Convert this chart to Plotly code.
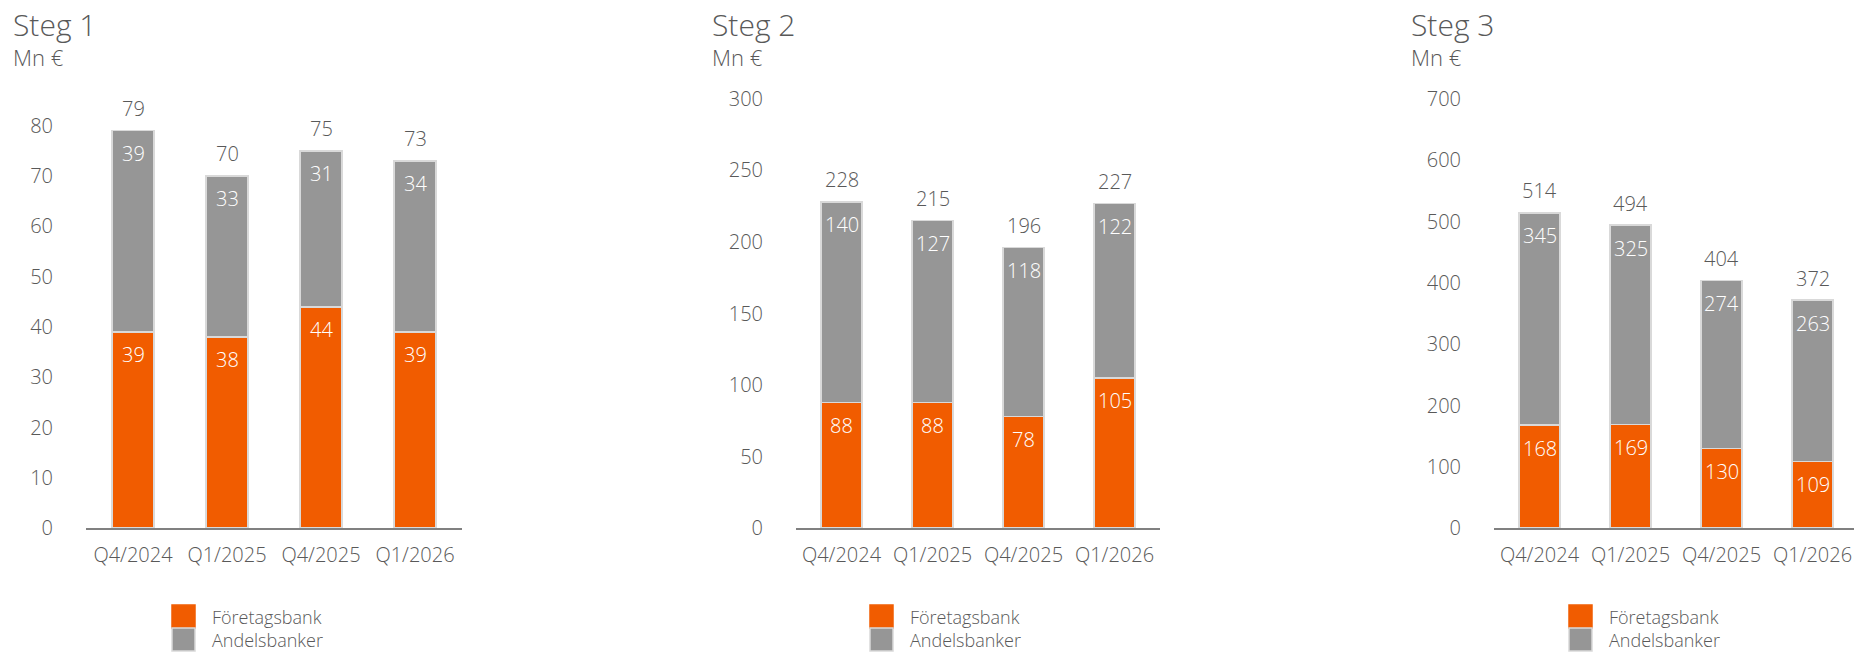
import plotly.graph_objects as go

categories = ["Q4/2024", "Q1/2025", "Q4/2025", "Q1/2026"]

steg1_foretag = [39, 38, 44, 39]
steg1_andels = [39, 33, 31, 34]
steg1_total = [79, 70, 75, 73]

steg2_foretag = [88, 88, 78, 105]
steg2_andels = [140, 127, 118, 122]
steg2_total = [228, 215, 196, 227]

steg3_foretag = [168, 169, 130, 109]
steg3_andels = [345, 325, 274, 263]
steg3_total = [514, 494, 404, 372]

titles = ["Steg 1", "Steg 2", "Steg 3"]
unit = "Mn €"
series_names = ["Företagsbank", "Andelsbanker"]

y_ticks = [
    [0, 10, 20, 30, 40, 50, 60, 70, 80],
    [0, 50, 100, 150, 200, 250, 300],
    [0, 100, 200, 300, 400, 500, 600, 700],
]
y_ranges = [[0, 89.1], [0, 313.3], [0, 731]]

W, H = 1854, 652
H_PAGE = H + 12  # renderer lays the paper out 12 px shorter than the div
ORANGE = "#F15C00"
GREY = "#969696"
EDGE = "#D9D9D9"
TXT = "#595959"
FONT = "Open Sans, Lato, sans-serif"
WT = 300

panels = [
    (steg1_foretag, steg1_andels, steg1_total),
    (steg2_foretag, steg2_andels, steg2_total),
    (steg3_foretag, steg3_andels, steg3_total),
]

x_px = [(86, 462), (796, 1160), (1494, 1858)]
title_x = [11, 710, 1409]
legend_x = [172, 870, 1569]
base_px = 529
top_px = 80


def fnt(size, color=TXT):
    return dict(size=size, color=color, family=FONT, weight=WT)


fig = go.Figure()
annotations = []
shapes = []

for i, (fore, andl, tot) in enumerate(panels):
    sfx = "" if i == 0 else str(i + 1)
    xa = "x" + sfx
    ya = "y" + sfx
    # grey segment drawn from the orange top up to the stacked total shown above the bar
    grey_h = [t - f for f, t in zip(fore, tot)]
    fig.add_trace(go.Bar(
        x=categories, y=fore, name=series_names[0], xaxis=xa, yaxis=ya,
        marker=dict(color=ORANGE, line=dict(color=EDGE, width=1.5)),
        showlegend=False, hovertext=[str(v) for v in fore], hoverinfo="text",
    ))
    fig.add_trace(go.Bar(
        x=categories, y=grey_h, name=series_names[1], xaxis=xa, yaxis=ya,
        marker=dict(color=GREY, line=dict(color=EDGE, width=1.5)),
        showlegend=False, hovertext=[str(v) for v in andl], hoverinfo="text",
    ))
    for c, f, a, t in zip(categories, fore, andl, tot):
        annotations.append(dict(x=c, y=f, xref=xa, yref=ya, text=str(f), showarrow=False,
                                yshift=-23, font=fnt(20, "white")))
        annotations.append(dict(x=c, y=t, xref=xa, yref=ya, text=str(a), showarrow=False,
                                yshift=-23, font=fnt(20, "white")))
        annotations.append(dict(x=c, y=t, xref=xa, yref=ya, text=str(t), showarrow=False,
                                yshift=22, font=fnt(20)))

    x0, x1 = x_px[i]
    xaxis = dict(
        domain=[x0 / W, min(x1, W) / W],
        anchor=ya, showline=True, linecolor="#808080", linewidth=2,
        showgrid=False, zeroline=False, ticks="",
        tickfont=fnt(20), ticklabelstandoff=8, fixedrange=True,
    )
    if x1 > W:
        frac = (W - x0) / (x1 - x0)
        xaxis["range"] = [-0.5, -0.5 + 4 * frac]
    fig.layout["xaxis" + sfx] = xaxis
    fig.layout["yaxis" + sfx] = dict(
        domain=[1 - base_px / H, 1 - top_px / H], anchor=xa,
        range=y_ranges[i], tickvals=y_ticks[i], showgrid=False, zeroline=False,
        showline=False, ticks="", ticklabelstandoff=32,
        tickfont=fnt(20), fixedrange=True,
    )

    annotations.append(dict(x=title_x[i] / W, y=1 - 25 / H, xref="paper", yref="paper",
                            text=titles[i], showarrow=False, xanchor="left", yanchor="middle",
                            font=fnt(30)))
    annotations.append(dict(x=title_x[i] / W, y=1 - 57 / H, xref="paper", yref="paper",
                            text=unit, showarrow=False, xanchor="left", yanchor="middle",
                            font=fnt(22)))

    # legend: two swatches + one two-line label
    lx = legend_x[i]
    for j, col in enumerate([ORANGE, GREY]):
        y0 = 606 + 23 * j
        shapes.append(dict(type="rect", xref="paper", yref="paper",
                           x0=lx / W, x1=(lx + 23) / W, y0=1 - (y0 + 23) / H, y1=1 - y0 / H,
                           fillcolor=col, line=dict(color=EDGE if j == 1 else col, width=1.5)))
    annotations.append(dict(x=(lx + 38) / W, y=1 - 629 / H, xref="paper", yref="paper",
                            text="<br>".join(series_names), showarrow=False,
                            xanchor="left", yanchor="middle", align="left",
                            font=fnt(18)))

fig.update_layout(
    width=W, height=H_PAGE, autosize=False, margin=dict(l=0, r=0, t=0, b=0),
    barmode="stack", bargap=0.55,
    paper_bgcolor="white", plot_bgcolor="white",
    annotations=annotations, shapes=shapes,
    font=dict(family=FONT, color=TXT),
    showlegend=False,
)

fig.write_html(
    "out.html",
    config={"responsive": False, "displayModeBar": False},
    post_script="document.body.style.margin='0';document.body.style.overflow='hidden';",
)
